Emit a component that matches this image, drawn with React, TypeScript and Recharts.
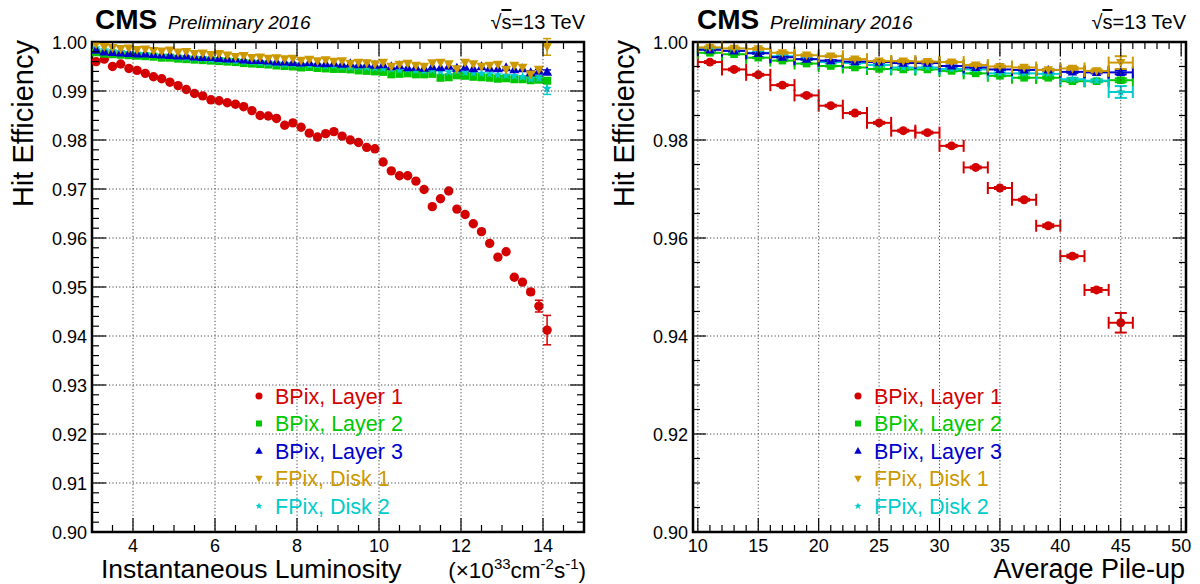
import React from "react";
import { ScatterChart, Scatter, XAxis, YAxis, ErrorBar, ReferenceArea } from "recharts";

const FONT = '"Liberation Sans", Arial, Helvetica, sans-serif';

const RED = "#d40000";
const GREEN = "#00c800";
const BLUE = "#0000cc";
const GOLD = "#cc9900";
const CYAN = "#00cccc";

// ---- left panel: efficiency vs instantaneous luminosity (x 10^33) ----
const lumi = [
  3.1, 3.3, 3.5, 3.7, 3.9, 4.1, 4.3, 4.5, 4.7, 4.9, 5.1, 5.3, 5.5, 5.7, 5.9, 6.1, 6.3, 6.5, 6.7, 6.9,
  7.1, 7.3, 7.5, 7.7, 7.9, 8.1, 8.3, 8.5, 8.7, 8.9, 9.1, 9.3, 9.5, 9.7, 9.9, 10.1, 10.3, 10.5, 10.7, 10.9,
  11.1, 11.3, 11.5, 11.7, 11.9, 12.1, 12.3, 12.5, 12.7, 12.9, 13.1, 13.3, 13.5, 13.7, 13.9, 14.1,
];
const lumiLayer1 = [
  0.996, 0.9965, 0.995, 0.9955, 0.9946, 0.9942, 0.9936, 0.9929, 0.9925, 0.9918, 0.9911, 0.9903, 0.9895, 0.989, 0.9882, 0.988, 0.9876, 0.9873, 0.9868, 0.986,
  0.985, 0.9849, 0.9844, 0.983, 0.9835, 0.9826, 0.9814, 0.9806, 0.9813, 0.9817, 0.9808, 0.98, 0.9795, 0.9785, 0.9782, 0.9755, 0.9737, 0.9727, 0.9727, 0.9716,
  0.9699, 0.9664, 0.968, 0.9696, 0.9659, 0.9648, 0.9629, 0.9613, 0.9589, 0.9561, 0.9572, 0.952, 0.951, 0.949, 0.9461, 0.9412,
];
const lumiLayer2 = [
  0.9979, 0.9976, 0.9975, 0.9974, 0.9973, 0.9972, 0.9971, 0.997, 0.9968, 0.9968, 0.9966, 0.9965, 0.9964, 0.9963, 0.9962, 0.9961, 0.996, 0.9959, 0.9957, 0.9956,
  0.9955, 0.9954, 0.9952, 0.9951, 0.995, 0.9948, 0.9949, 0.9947, 0.9946, 0.9945, 0.9945, 0.9944, 0.9942, 0.9941, 0.994, 0.9939, 0.9934, 0.9935, 0.9936, 0.9934,
  0.9934, 0.9935, 0.9927, 0.9928, 0.9932, 0.9931, 0.9929, 0.9928, 0.9927, 0.9925, 0.9926, 0.9924, 0.9924, 0.9922, 0.9923, 0.9921,
];
const lumiLayer3 = [
  0.9984, 0.998, 0.9979, 0.9978, 0.9977, 0.9976, 0.9976, 0.9975, 0.9974, 0.9973, 0.9972, 0.9972, 0.997, 0.9969, 0.9969, 0.9967, 0.9966, 0.9966, 0.9964, 0.9963,
  0.9963, 0.9962, 0.996, 0.996, 0.9959, 0.9958, 0.9959, 0.9957, 0.9956, 0.9957, 0.9955, 0.9956, 0.9954, 0.9955, 0.9953, 0.9954, 0.995, 0.9952, 0.9948, 0.9949,
  0.9947, 0.995, 0.9948, 0.9951, 0.9947, 0.9949, 0.9946, 0.995, 0.9947, 0.9946, 0.9948, 0.9944, 0.9946, 0.9938, 0.9941, 0.9939,
];
const lumiDisk1 = [
  0.9996, 0.999, 0.9988, 0.9986, 0.9987, 0.9984, 0.9985, 0.9982, 0.9981, 0.9983, 0.9979, 0.998, 0.9976, 0.9977, 0.9974, 0.9976, 0.9973, 0.997, 0.9972, 0.9968,
  0.9969, 0.9966, 0.9967, 0.9965, 0.9966, 0.9962, 0.9964, 0.9961, 0.9963, 0.996, 0.9961, 0.9956, 0.9958, 0.9957, 0.9955, 0.9958, 0.995, 0.9954, 0.9956, 0.9952,
  0.995, 0.9957, 0.9958, 0.9955, 0.9945, 0.9958, 0.9955, 0.995, 0.9952, 0.9954, 0.9944, 0.9952, 0.9948, 0.9934, 0.9944, 0.999,
];
const lumiDisk2 = [
  0.9988, 0.9984, 0.9982, 0.998, 0.9978, 0.9976, 0.9975, 0.9973, 0.9972, 0.9971, 0.9969, 0.9968, 0.9967, 0.9966, 0.9964, 0.9963, 0.9962, 0.9961, 0.996, 0.9959,
  0.9958, 0.9957, 0.9956, 0.9955, 0.9955, 0.9954, 0.9953, 0.9953, 0.9951, 0.9952, 0.995, 0.9949, 0.995, 0.9948, 0.9947, 0.9946, 0.9945, 0.9943, 0.9944, 0.9942,
  0.9941, 0.9943, 0.994, 0.9939, 0.9941, 0.9938, 0.9937, 0.9936, 0.9935, 0.9933, 0.9932, 0.9931, 0.9929, 0.9925, 0.9926, 0.9905,
];
// statistical errors of the last bins (only ones visible beyond the markers)
const lumiErrTail = {
  l1: [0.0005, 0.0012, 0.003],
  l2: [0.0003, 0.0003, 0.0004],
  l3: [0.0003, 0.0003, 0.0004],
  d1: [0.0004, 0.0005, 0.0017],
  d2: [0.0004, 0.0005, 0.0012],
};

// ---- right panel: efficiency vs average pile-up ----
const pileup = [11, 13, 15, 17, 19, 21, 23, 25, 27, 29, 31, 33, 35, 37, 39, 41, 43, 45];
const puBinHalf = 1;
const puLayer1 = [0.9959, 0.9944, 0.9933, 0.9912, 0.9891, 0.987, 0.9855, 0.9835, 0.9819, 0.9815, 0.9788, 0.9744, 0.9702, 0.9678, 0.9625, 0.9563, 0.9494, 0.9427];
const puLayer2 = [0.9978, 0.9975, 0.9968, 0.9962, 0.9956, 0.9951, 0.9948, 0.9945, 0.9944, 0.9944, 0.9941, 0.9936, 0.9931, 0.9927, 0.9927, 0.992, 0.992, 0.9922];
const puLayer3 = [0.9984, 0.9982, 0.9977, 0.9969, 0.9965, 0.9962, 0.996, 0.9959, 0.9957, 0.9957, 0.9951, 0.9948, 0.9944, 0.9943, 0.9943, 0.9939, 0.9938, 0.9938];
const puDisk1 = [0.9989, 0.9987, 0.9986, 0.9978, 0.9973, 0.9971, 0.9965, 0.9961, 0.9961, 0.996, 0.9959, 0.9953, 0.995, 0.9948, 0.9943, 0.9946, 0.9941, 0.9958];
const puDisk2 = [0.9986, 0.9982, 0.9978, 0.9971, 0.9965, 0.9959, 0.9957, 0.9953, 0.9948, 0.9948, 0.9945, 0.9944, 0.9936, 0.9936, 0.9935, 0.9924, 0.9921, 0.9898];
const puErr = {
  l1: [0.0002, 0.0002, 0.0002, 0.0002, 0.0002, 0.0002, 0.0002, 0.0002, 0.0002, 0.0002, 0.0002, 0.0002, 0.0002, 0.0002, 0.0003, 0.0003, 0.0004, 0.002],
  l2: [0.0001, 0.0001, 0.0001, 0.0001, 0.0001, 0.0001, 0.0001, 0.0001, 0.0001, 0.0001, 0.0001, 0.0001, 0.0001, 0.0001, 0.0002, 0.0002, 0.0002, 0.0004],
  l3: [0.0001, 0.0001, 0.0001, 0.0001, 0.0001, 0.0001, 0.0001, 0.0001, 0.0001, 0.0001, 0.0001, 0.0001, 0.0001, 0.0001, 0.0002, 0.0002, 0.0002, 0.0004],
  d1: [0.0002, 0.0002, 0.0002, 0.0002, 0.0002, 0.0002, 0.0002, 0.0002, 0.0002, 0.0002, 0.0002, 0.0002, 0.0002, 0.0002, 0.0002, 0.0003, 0.0003, 0.0013],
  d2: [0.0002, 0.0002, 0.0002, 0.0002, 0.0002, 0.0002, 0.0002, 0.0002, 0.0002, 0.0002, 0.0002, 0.0002, 0.0002, 0.0002, 0.0002, 0.0003, 0.0003, 0.0012],
};

const legendLabels = ["BPix, Layer 1", "BPix, Layer 2", "BPix, Layer 3", "FPix, Disk 1", "FPix, Disk 2"];
const lumiMajor = [4, 6, 8, 10, 12, 14];
const lumiEffMajor = [0.9, 0.91, 0.92, 0.93, 0.94, 0.95, 0.96, 0.97, 0.98, 0.99, 1.0];
const puMajor = [10, 15, 20, 25, 30, 35, 40, 45, 50];
const puEffMajor = [0.9, 0.92, 0.94, 0.96, 0.98, 1.0];

function steps(lo: number, hi: number, step: number) {
  const out: number[] = [];
  const n = Math.round((hi - lo) / step);
  for (let i = 0; i <= n; i++) out.push(+(lo + i * step).toFixed(4));
  return out;
}

type Shape = "circle" | "square" | "up" | "down" | "star";
const SERIES: { color: string; shape: Shape }[] = [
  { color: RED, shape: "circle" },
  { color: GREEN, shape: "square" },
  { color: BLUE, shape: "up" },
  { color: GOLD, shape: "down" },
  { color: CYAN, shape: "star" },
];

function Marker({ cx, cy, color, shape, s = 1 }: { cx: number; cy: number; color: string; shape: Shape; s?: number }) {
  if (cx == null || cy == null) return null;
  if (shape === "circle") return <circle cx={cx} cy={cy} r={4.7 * s} fill={color} />;
  if (shape === "square") return <rect x={cx - 4 * s} y={cy - 4 * s} width={8 * s} height={8 * s} fill={color} />;
  if (shape === "up")
    return <polygon points={`${cx},${cy - 5.2 * s} ${cx - 5 * s},${cy + 3.8 * s} ${cx + 5 * s},${cy + 3.8 * s}`} fill={color} />;
  if (shape === "down")
    return <polygon points={`${cx},${cy + 5.2 * s} ${cx - 5 * s},${cy - 3.8 * s} ${cx + 5 * s},${cy - 3.8 * s}`} fill={color} />;
  const pts: string[] = [];
  for (let i = 0; i < 10; i++) {
    const r = (i % 2 === 0 ? 4.8 : 2.1) * s;
    const a = -Math.PI / 2 + (i * Math.PI) / 5;
    pts.push(`${cx + r * Math.cos(a)},${cy + r * Math.sin(a)}`);
  }
  return <polygon points={pts.join(" ")} fill={color} />;
}

type TickCfg = { majors: number[]; lo: number; hi: number; far: number; major: number; minor: number; fmt: (v: number) => string };

const isMajor = (majors: number[], v: number) => majors.some((m) => Math.abs(m - v) < 1e-6);

// ROOT style: ticks point inward on both opposite frame edges, dotted grid at the majors
function xTick(cfg: TickCfg) {
  return (p: any) => {
    const v = p.payload.value;
    const x = p.payload.coordinate ?? p.x;
    const y = p.y;
    const maj = isMajor(cfg.majors, v);
    const len = maj ? cfg.major : cfg.minor;
    const inside = v > cfg.lo + 1e-6 && v < cfg.hi - 1e-6;
    return (
      <g>
        {maj && inside && <line x1={x} x2={x} y1={cfg.far} y2={y} stroke="#444" strokeDasharray="1.2 2.2" />}
        <line x1={x} x2={x} y1={y} y2={y - len} stroke="#000" strokeWidth={1.2} />
        <line x1={x} x2={x} y1={cfg.far} y2={cfg.far + len} stroke="#000" strokeWidth={1.2} />
        {maj && (
          <text x={x} y={y + 19.5} textAnchor="middle" fontSize={18} fontFamily={FONT} fill="#000">
            {cfg.fmt(v)}
          </text>
        )}
      </g>
    );
  };
}

function yTick(cfg: TickCfg) {
  return (p: any) => {
    const v = p.payload.value;
    const x = p.x;
    const y = p.payload.coordinate ?? p.y;
    const maj = isMajor(cfg.majors, v);
    const len = maj ? cfg.major : cfg.minor;
    const inside = v > cfg.lo + 1e-6 && v < cfg.hi - 1e-6;
    return (
      <g>
        {maj && inside && <line x1={x} x2={cfg.far} y1={y} y2={y} stroke="#444" strokeDasharray="1.2 2.2" />}
        <line x1={x} x2={x + len} y1={y} y2={y} stroke="#000" strokeWidth={1.2} />
        <line x1={cfg.far} x2={cfg.far - len} y1={y} y2={y} stroke="#000" strokeWidth={1.2} />
        {maj && (
          <text x={x - 5} y={y + 6.5} textAnchor="end" fontSize={18} fontFamily={FONT} fill="#000">
            {cfg.fmt(v)}
          </text>
        )}
      </g>
    );
  };
}

function withTail(xs: number[], ys: number[], tail: number[]) {
  const n = xs.length;
  return xs.map((x, i) => ({ x, y: ys[i], ey: i >= n - tail.length ? tail[i - (n - tail.length)] : 0 }));
}

function withErr(xs: number[], ys: number[], err: number[]) {
  return xs.map((x, i) => ({ x, y: ys[i], ex: puBinHalf, ey: err[i] }));
}

function LumiPanel() {
  const sets = [
    { d: withTail(lumi, lumiLayer1, lumiErrTail.l1), s: SERIES[0] },
    { d: withTail(lumi, lumiLayer2, lumiErrTail.l2), s: SERIES[1] },
    { d: withTail(lumi, lumiDisk2, lumiErrTail.d2), s: SERIES[4] },
    { d: withTail(lumi, lumiLayer3, lumiErrTail.l3), s: SERIES[2] },
    { d: withTail(lumi, lumiDisk1, lumiErrTail.d1), s: SERIES[3] },
  ];
  return (
    <ScatterChart width={600} height={584} margin={{ top: 42, right: 16, bottom: 51, left: 91 }}>
      <XAxis
        type="number"
        dataKey="x"
        domain={[3, 15]}
        ticks={steps(3, 15, 0.5)}
        interval={0}
        height={1}
        tickSize={0}
        tickMargin={0}
        axisLine={false}
        tickLine={false}
        allowDataOverflow
        tick={xTick({ majors: lumiMajor, lo: 3, hi: 15, far: 42, major: 14, minor: 7, fmt: (v) => String(v) })}
      />
      <YAxis
        type="number"
        dataKey="y"
        domain={[0.9, 1.0]}
        ticks={steps(0.9, 1.0, 0.002)}
        interval={0}
        width={1}
        tickSize={0}
        tickMargin={0}
        axisLine={false}
        tickLine={false}
        allowDataOverflow
        tick={yTick({ majors: lumiEffMajor, lo: 0.9, hi: 1.0, far: 584, major: 14, minor: 7, fmt: (v) => v.toFixed(2) })}
      />
      <ReferenceArea x1={3} x2={15} y1={0.9} y2={1.0} fill="none" stroke="#000" strokeWidth={2.5} ifOverflow="visible" />
      {sets.map(({ d, s }, k) => (
        <Scatter
          key={k}
          data={d}
          isAnimationActive={false}
          shape={(p: any) => <Marker cx={p.cx} cy={p.cy} color={s.color} shape={s.shape} />}
        >
          <ErrorBar dataKey="ey" direction="y" width={4} stroke={s.color} strokeWidth={1.5} />
        </Scatter>
      ))}
    </ScatterChart>
  );
}

function PileupPanel() {
  const sets = [
    { d: withErr(pileup, puLayer1, puErr.l1), s: SERIES[0] },
    { d: withErr(pileup, puLayer2, puErr.l2), s: SERIES[1] },
    { d: withErr(pileup, puDisk2, puErr.d2), s: SERIES[4] },
    { d: withErr(pileup, puLayer3, puErr.l3), s: SERIES[2] },
    { d: withErr(pileup, puDisk1, puErr.d1), s: SERIES[3] },
  ];
  return (
    <ScatterChart width={600} height={584} margin={{ top: 42, right: 14, bottom: 51, left: 92 }}>
      <XAxis
        type="number"
        dataKey="x"
        domain={[9.6, 50.4]}
        ticks={steps(10, 50, 1)}
        interval={0}
        height={1}
        tickSize={0}
        tickMargin={0}
        axisLine={false}
        tickLine={false}
        allowDataOverflow
        tick={xTick({ majors: puMajor, lo: 9.6, hi: 50.4, far: 42, major: 14, minor: 7, fmt: (v) => String(v) })}
      />
      <YAxis
        type="number"
        dataKey="y"
        domain={[0.9, 1.0]}
        ticks={steps(0.9, 1.0, 0.005)}
        interval={0}
        width={1}
        tickSize={0}
        tickMargin={0}
        axisLine={false}
        tickLine={false}
        allowDataOverflow
        tick={yTick({ majors: puEffMajor, lo: 0.9, hi: 1.0, far: 586, major: 13, minor: 7, fmt: (v) => v.toFixed(2) })}
      />
      <ReferenceArea x1={9.6} x2={50.4} y1={0.9} y2={1.0} fill="none" stroke="#000" strokeWidth={2.5} ifOverflow="visible" />
      {sets.map(({ d, s }, k) => (
        <Scatter
          key={k}
          data={d}
          isAnimationActive={false}
          shape={(p: any) => <Marker cx={p.cx} cy={p.cy} color={s.color} shape={s.shape} s={0.95} />}
        >
          <ErrorBar dataKey="ex" direction="x" width={6} stroke={s.color} strokeWidth={2} />
          <ErrorBar dataKey="ey" direction="y" width={6} stroke={s.color} strokeWidth={2} />
        </Scatter>
      ))}
    </ScatterChart>
  );
}

const legendRows = [396, 423.5, 451, 478.5, 506];

function Legend({ mx, tx }: { mx: number; tx: number }) {
  return (
    <g>
      {legendLabels.map((lab, i) => (
        <g key={lab}>
          <Marker cx={mx} cy={legendRows[i]} color={SERIES[i].color} shape={SERIES[i].shape} s={0.75} />
          <text x={tx} y={legendRows[i] + 7.7} fontSize={21.5} fontFamily={FONT} fill={SERIES[i].color}>
            {lab}
          </text>
        </g>
      ))}
    </g>
  );
}

function Header({ x0, x1 }: { x0: number; x1: number }) {
  return (
    <g fontFamily={FONT}>
      <text x={x0} y={29} fontSize={28} fontWeight="bold">CMS</text>
      <text x={x0 + 73} y={29} fontSize={19} fontStyle="italic">Preliminary 2016</text>
      <text x={x1} y={29} fontSize={20} textAnchor="end">
        √<tspan textDecoration="overline">s</tspan>=13 TeV
      </text>
    </g>
  );
}

export default function App() {
  return (
    <div style={{ position: "absolute", left: 0, top: 0, width: 1200, height: 584, background: "#fff", fontFamily: FONT }}>
      <div style={{ position: "absolute", left: 0, top: 0 }}>
        <LumiPanel />
      </div>
      <div style={{ position: "absolute", left: 600, top: 0 }}>
        <PileupPanel />
      </div>
      <svg width={1200} height={584} style={{ position: "absolute", left: 0, top: 0, pointerEvents: "none" }}>
        <Header x0={95} x1={585} />
        <Header x0={697} x1={1186} />
        <Legend mx={259} tx={275} />
        <Legend mx={858} tx={874} />
        <g fontFamily={FONT}>
          <text x={33} y={40} fontSize={29} textAnchor="end" transform="rotate(-90 33 40)">Hit Efficiency</text>
          <text x={634} y={40} fontSize={29} textAnchor="end" transform="rotate(-90 634 40)">Hit Efficiency</text>
          <text x={101} y={577.5} fontSize={26.5}>Instantaneous Luminosity</text>
          <text x={586} y={577.5} fontSize={22.5} textAnchor="end">
            (×10<tspan dy={-9} fontSize={15}>33</tspan>
            <tspan dy={9}>cm</tspan>
            <tspan dy={-9} fontSize={15}>-2</tspan>
            <tspan dy={9}>s</tspan>
            <tspan dy={-9} fontSize={15}>-1</tspan>
            <tspan dy={9}>)</tspan>
          </text>
          <text x={1185} y={577.5} fontSize={27} textAnchor="end">Average Pile-up</text>
        </g>
      </svg>
    </div>
  );
}
